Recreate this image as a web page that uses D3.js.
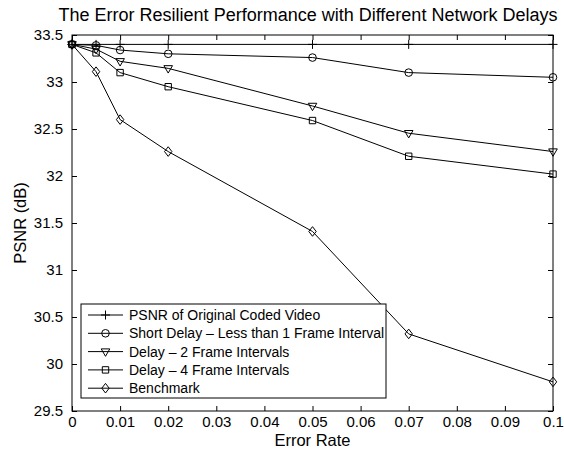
<!DOCTYPE html>
<html>
<head>
<meta charset="utf-8">
<script src="https://cdn.jsdelivr.net/npm/d3@7"></script>
<style>
  html, body { margin: 0; padding: 0; background: #fff; }
  svg { display: block; font-family: "Liberation Sans", Arial, Helvetica, sans-serif; }
</style>
</head>
<body>
<svg id="chart" width="564" height="450"></svg>
<script>
// data
const errorRates = [0, 0.005, 0.01, 0.02, 0.05, 0.07, 0.1];
const psnrOriginal = [33.4, 33.4, 33.4, 33.4, 33.4, 33.4, 33.4];
const psnrShortDelay = [33.4, 33.39, 33.34, 33.3, 33.26, 33.1, 33.05];
const psnrDelay2 = [33.4, 33.35, 33.22, 33.145, 32.745, 32.455, 32.26];
const psnrDelay4 = [33.4, 33.31, 33.1, 32.95, 32.59, 32.21, 32.02];
const psnrBenchmark = [33.4, 33.11, 32.6, 32.26, 31.41, 30.32, 29.81];

const seriesNames = [
  'PSNR of Original Coded Video',
  'Short Delay \u2013 Less than 1 Frame Interval',
  'Delay \u2013 2 Frame Intervals',
  'Delay \u2013 4 Frame Intervals',
  'Benchmark',
];
const seriesMarkers = ['plus', 'circle', 'triangle', 'square', 'diamond'];

const xTicks = [0, 0.01, 0.02, 0.03, 0.04, 0.05, 0.06, 0.07, 0.08, 0.09, 0.1];
const yTicks = [29.5, 30, 30.5, 31, 31.5, 32, 32.5, 33, 33.5];

const titleText = 'The Error Resilient Performance with Different Network Delays';
const xLabel = 'Error Rate';
const yLabel = 'PSNR (dB)';

// layout
const margin = {left: 72, right: 11, top: 35, bottom: 39};
const width = 564 - margin.left - margin.right;
const height = 450 - margin.top - margin.bottom;
const tickLen = 5;

const svg = d3.select('#chart');
const g = svg.append('g')
    .attr('transform', `translate(${margin.left},${margin.top})`);

const x = d3.scaleLinear().domain([0, 0.1]).range([0, width]);
const y = d3.scaleLinear().domain([29.5, 33.5]).range([height, 0]);

// marker paths, drawn around 0,0
function markerPath(kind) {
  switch (kind) {
    case 'plus':
      return 'M-4.5,0H4.5M0,-4.5V4.5';
    case 'circle':
      return 'M3.8,0A3.8,3.8 0 1,1 -3.8,0A3.8,3.8 0 1,1 3.8,0Z';
    case 'triangle':
      return 'M-4.3,-2.7L4.3,-2.7L0,4.7Z';
    case 'square':
      return 'M-3.2,-3.2H3.2V3.2H-3.2Z';
    case 'diamond':
      return 'M0,-4.8L3.7,0L0,4.8L-3.7,0Z';
  }
  return '';
}

const series = [psnrOriginal, psnrShortDelay, psnrDelay2, psnrDelay4, psnrBenchmark]
    .map((vals, i) => ({
      name: seriesNames[i],
      marker: seriesMarkers[i],
      points: vals.map((v, j) => [errorRates[j], v]),
    }));

// axes box with inward ticks on all four sides (matlab style)
const axisFont = 15;
g.append('g')
    .attr('transform', `translate(0,${height})`)
    .call(d3.axisBottom(x).tickValues(xTicks).tickSizeInner(-tickLen)
        .tickSizeOuter(0).tickPadding(5).tickFormat(d3.format('~g')))
    .call((a) => a.select('.domain').remove())
    .call((a) => a.selectAll('text').attr('font-size', axisFont)
        .attr('font-family', null).attr('fill', '#000'));
g.append('g')
    .call(d3.axisTop(x).tickValues(xTicks).tickSizeInner(-tickLen)
        .tickSizeOuter(0).tickFormat(''))
    .call((a) => a.select('.domain').remove());
g.append('g')
    .call(d3.axisLeft(y).tickValues(yTicks).tickSizeInner(-tickLen)
        .tickSizeOuter(0).tickPadding(9).tickFormat(d3.format('~g')))
    .call((a) => a.select('.domain').remove())
    .call((a) => a.selectAll('text').attr('font-size', axisFont)
        .attr('font-family', null).attr('fill', '#000'));
g.append('g')
    .attr('transform', `translate(${width},0)`)
    .call(d3.axisRight(y).tickValues(yTicks).tickSizeInner(-tickLen)
        .tickSizeOuter(0).tickFormat(''))
    .call((a) => a.select('.domain').remove());

g.append('rect')
    .attr('width', width)
    .attr('height', height)
    .attr('fill', 'none')
    .attr('stroke', '#000')
    .attr('stroke-width', 1);

// lines + markers
const line = d3.line().x((d) => x(d[0])).y((d) => y(d[1]));
const plot = g.append('g');
series.forEach((s) => {
  plot.append('path')
      .datum(s.points)
      .attr('d', line)
      .attr('fill', 'none')
      .attr('stroke', '#000')
      .attr('stroke-width', 1);
  plot.append('g')
      .selectAll('path')
      .data(s.points)
      .join('path')
      .attr('transform', (d) => `translate(${x(d[0])},${y(d[1])})`)
      .attr('d', markerPath(s.marker))
      .attr('fill', 'none')
      .attr('stroke', '#000')
      .attr('stroke-width', 1);
});

// legend
const legendX = 81 - margin.left;
const legendY = 304 - margin.top;
const rowH = 18.3;
const legend = g.append('g').attr('transform', `translate(${legendX},${legendY})`);
legend.append('rect')
    .attr('width', 305)
    .attr('height', 94)
    .attr('fill', '#fff')
    .attr('stroke', '#000');
const rows = legend.selectAll('g.row')
    .data(series)
    .join('g')
    .attr('class', 'row')
    .attr('transform', (d, i) => `translate(0,${11 + i * rowH})`);
rows.append('line')
    .attr('x1', 7).attr('x2', 42)
    .attr('stroke', '#000');
rows.append('path')
    .attr('transform', 'translate(24.5,0)')
    .attr('d', (d) => markerPath(d.marker))
    .attr('fill', 'none')
    .attr('stroke', '#000');
rows.append('text')
    .attr('x', 48)
    .attr('dy', '0.35em')
    .attr('font-size', 14)
    .text((d) => d.name);

// titles
svg.append('text')
    .attr('x', 308)
    .attr('y', 21)
    .attr('text-anchor', 'middle')
    .attr('font-size', 18)
    .text(titleText);
svg.append('text')
    .attr('x', margin.left + width / 2)
    .attr('y', 446)
    .attr('text-anchor', 'middle')
    .attr('font-size', 16.5)
    .text(xLabel);
svg.append('text')
    .attr('transform', `translate(26,${margin.top + height / 2}) rotate(-90)`)
    .attr('text-anchor', 'middle')
    .attr('font-size', 16.5)
    .text(yLabel);
</script>
</body>
</html>
